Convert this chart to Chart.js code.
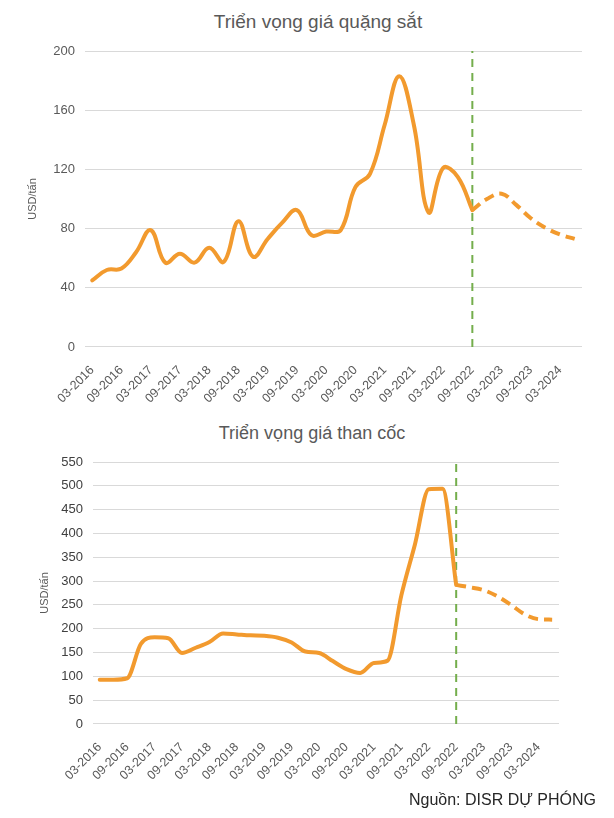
<!DOCTYPE html>
<html lang="vi">
<head>
<meta charset="utf-8">
<script src="https://cdn.jsdelivr.net/npm/chart.js@4.4.1/dist/chart.umd.min.js"></script>
<style>
  body { margin: 0; background: #fff; width: 614px; height: 818px; position: relative;
         font-family: 'Liberation Sans', Arial, sans-serif; }
  .box { position: absolute; left: 0; width: 614px; }
  #topBox { top: 0; height: 414px; }
  #bottomBox { top: 414px; height: 377px; }
  .title { position: absolute; color: #595959; white-space: nowrap; transform: translate(-50%, -50%); }
  #topTitle { left: 318px; top: 22px; font-size: 19px; }
  #bottomTitle { left: 312px; top: 433px; font-size: 18px; }
  .source { position: absolute; right: 18px; top: 791px; font-size: 16px; color: #262626; }
</style>
</head>
<body>
<div class="title" id="topTitle">Triển vọng giá quặng sắt</div>
<div class="box" id="topBox"><canvas id="ironChart"></canvas></div>
<div class="title" id="bottomTitle">Triển vọng giá than cốc</div>
<div class="box" id="bottomBox"><canvas id="coalChart"></canvas></div>
<div class="source">Nguồn: DISR DỰ PHÓNG</div>
<script>
// ---- data ----
const tickLabels = ['03-2016', '09-2016', '03-2017', '09-2017', '03-2018', '09-2018',
  '03-2019', '09-2019', '03-2020', '09-2020', '03-2021', '09-2021', '03-2022',
  '09-2022', '03-2023', '09-2023', '03-2024'];

const forecastStart = '09-2022';

const actualDates = ['03-2016', '06-2016', '09-2016', '12-2016', '03-2017', '06-2017',
  '09-2017', '12-2017', '03-2018', '06-2018', '09-2018', '12-2018', '03-2019',
  '06-2019', '09-2019', '12-2019', '03-2020', '06-2020', '09-2020', '12-2020',
  '03-2021', '06-2021', '09-2021', '12-2021', '03-2022', '06-2022', '09-2022'];

const forecastDates = ['09-2022', '12-2022', '03-2023', '06-2023', '09-2023',
  '12-2023', '03-2024', '06-2024'];

const ironActual = [45, 52, 53, 64, 79, 57, 63, 57, 67, 57.5, 85, 61, 73,
  84, 92.5, 75.5, 78, 79, 108, 117, 150, 183, 150, 91, 121, 115, 92.5];
const ironForecast = [92.5, 100, 103.5, 96, 87, 80.5, 76, 73];

const coalActual = [93, 93, 96, 168, 182, 180, 149, 160, 172, 190, 188, 186, 185,
  181, 171, 152, 149, 132, 115, 107, 128, 133, 270, 378, 493, 494, 292];
const coalForecast = [292, 287, 281, 268, 250, 230, 220, 219];

// ---- styling ----
const ORANGE = '#F29A2E';
const GREEN = '#74AE4C';
const GRID = '#D9D9D9';
const FONT = "'Liberation Sans', Arial, sans-serif";

// months since 03-2016
function monthIndex(label) {
  const [mm, yyyy] = label.split('-').map(Number);
  return (yyyy - 2016) * 12 + (mm - 3);
}

function toPoints(dates, values) {
  return dates.map((d, i) => ({ x: monthIndex(d), y: values[i] }));
}

function createOutlookChart(canvasId, { actual, forecast, yMax, yStep, padding, labelColor, titlePad, curve = 'default' }) {
  const canvas = document.getElementById(canvasId);
  const tickMonths = tickLabels.map(monthIndex);
  const splitX = monthIndex(forecastStart);

  return new Chart(canvas, {
    type: 'line',
    data: {
      datasets: [
        {
          data: toPoints(actualDates, actual),
          borderColor: ORANGE,
          borderWidth: 4,
          borderJoinStyle: 'round',
          borderCapStyle: 'round',
          tension: 0.4,
          cubicInterpolationMode: curve,
          pointRadius: 0,
        },
        {
          data: toPoints(forecastDates, forecast),
          borderColor: ORANGE,
          borderWidth: 4,
          borderDash: [10, 6],
          tension: 0.4,
          cubicInterpolationMode: curve,
          pointRadius: 0,
        },
        {
          // forecast divider
          data: [{ x: splitX, y: 0 }, { x: splitX, y: yMax }],
          borderColor: GREEN,
          borderWidth: 2,
          borderDash: [8, 6],
          tension: 0,
          pointRadius: 0,
        },
      ],
    },
    options: {
      responsive: true,
      maintainAspectRatio: false,
      animation: false,
      layout: { padding },
      plugins: {
        legend: { display: false },
        tooltip: { enabled: false },
      },
      scales: {
        x: {
          type: 'linear',
          min: -1.5,
          max: 100.5,
          grid: { display: false },
          border: { display: false },
          afterBuildTicks: (axis) => {
            axis.ticks = tickMonths.map(v => ({ value: v }));
          },
          ticks: {
            autoSkip: false,
            maxRotation: 45,
            minRotation: 45,
            padding: 8,
            color: '#595959',
            font: { family: FONT, size: 12.5 },
            callback: (v) => tickLabels[tickMonths.indexOf(v)],
          },
        },
        y: {
          min: 0,
          max: yMax,
          grid: { color: GRID, lineWidth: 1, drawTicks: false },
          border: { display: false },
          ticks: {
            stepSize: yStep,
            padding: 10,
            color: labelColor,
            font: { family: FONT, size: 13 },
          },
          title: {
            display: true,
            text: 'USD/tấn',
            color: '#595959',
            font: { family: FONT, size: 11 },
            padding: titlePad,
          },
        },
      },
    },
  });
}

createOutlookChart('ironChart', {
  actual: ironActual,
  forecast: ironForecast,
  yMax: 200,
  yStep: 40,
  padding: { top: 51, left: 14, right: 32, bottom: 0 },
  labelColor: '#595959',
  titlePad: { top: 12, bottom: 4 },
});

createOutlookChart('coalChart', {
  actual: coalActual,
  forecast: coalForecast,
  yMax: 550,
  yStep: 50,
  padding: { top: 48, left: 25, right: 55, bottom: 0 },
  labelColor: '#404040',
  titlePad: { top: 13, bottom: 0 },
  curve: 'monotone',
});
</script>
</body>
</html>
